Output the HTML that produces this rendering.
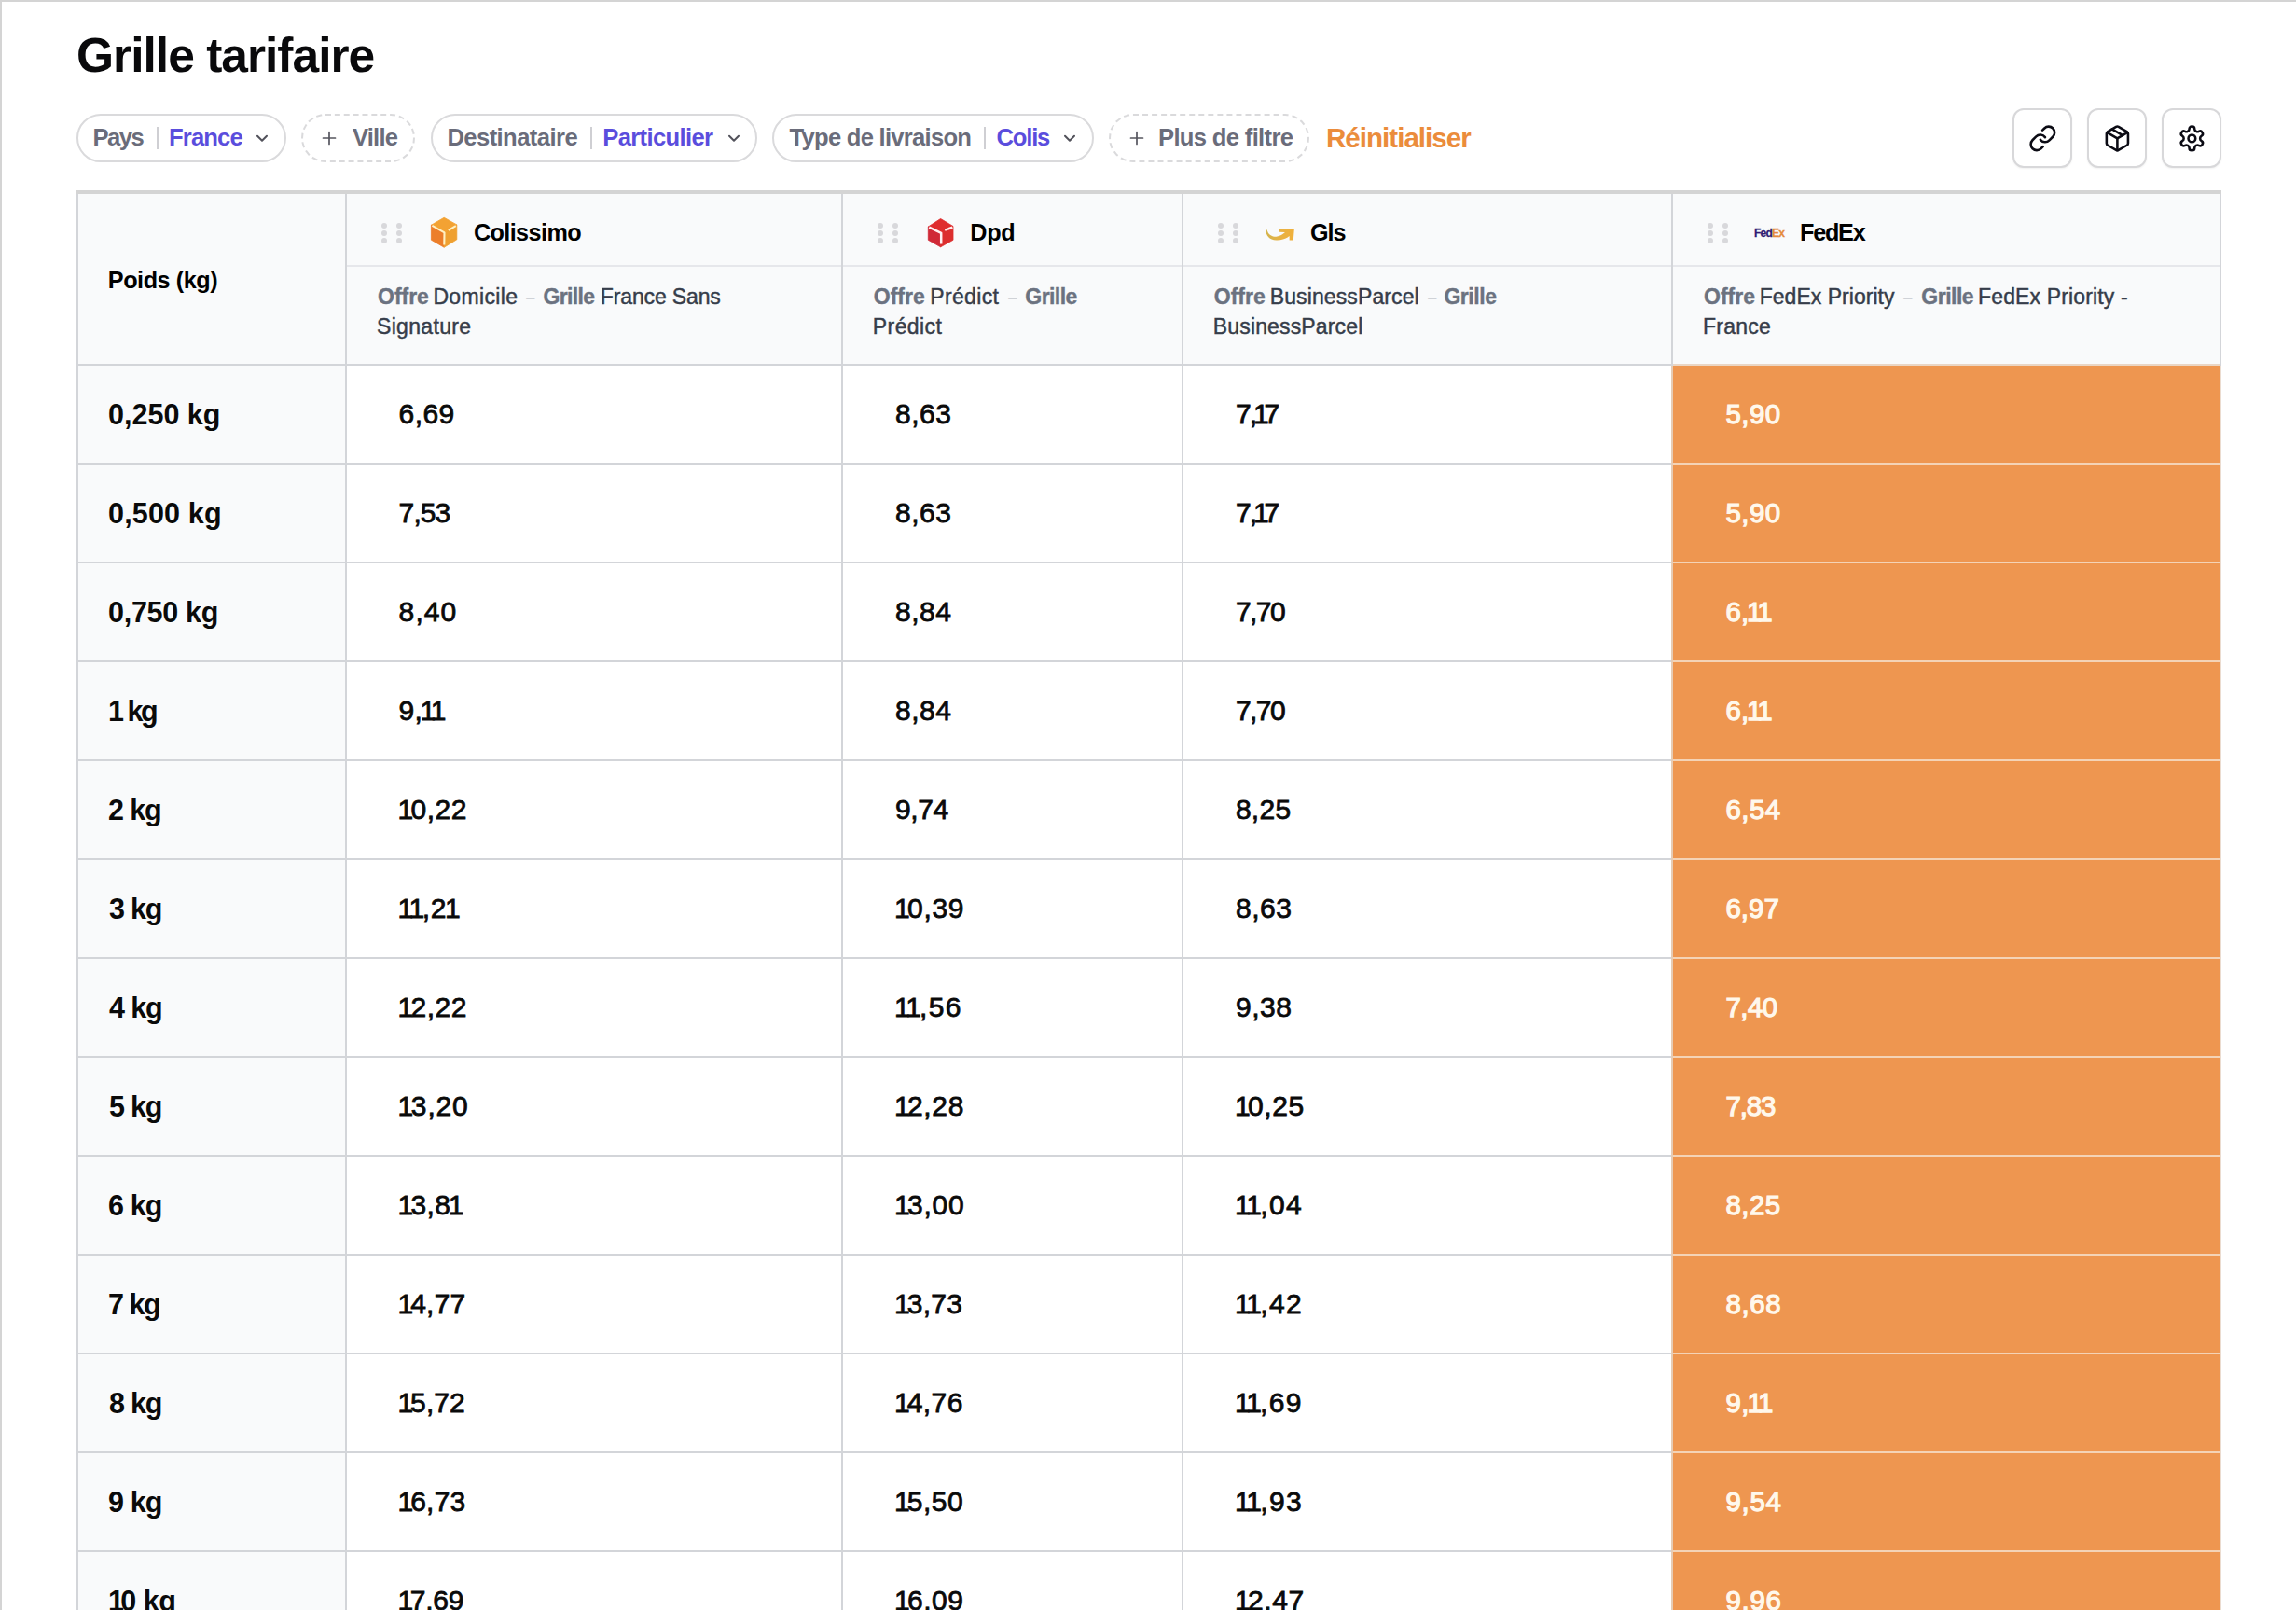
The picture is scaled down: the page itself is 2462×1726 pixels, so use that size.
<!DOCTYPE html><html lang="fr"><head><meta charset="utf-8"><title>Grille tarifaire</title><style>
*{box-sizing:border-box;margin:0;padding:0}
html,body{width:2462px;height:1726px;overflow:hidden;background:#fff}
body{position:relative;font-family:"Liberation Sans",sans-serif;color:#09090b}
.a{position:absolute;white-space:nowrap;line-height:1}
.frame-t{left:0;top:0;width:2462px;height:2px;background:#d4d4d4}
.frame-l{left:0;top:0;width:2px;height:1726px;background:#d4d4d4}
h1{font-size:51.5px;font-weight:700;top:34.4px}
.pill{height:52px;top:122px;border:2px solid #dadadc;border-radius:26px;background:#fff}
.pill.dash{border-style:dashed}
.pt{font-size:25.6px;font-weight:700;color:#6a6c7a;top:135px}
.pv{color:#5a4ddd}
.sep{width:2px;height:24px;top:136px;background:#cfcfd3}
.reset{font-size:29.6px;font-weight:700;color:#eb8c3b;top:132.6px}
.btn{width:64px;height:64px;top:116px;border:2px solid #d8d8da;border-radius:12px;background:#fff;box-shadow:0 1px 2px rgba(0,0,0,.06)}
.btn svg{position:absolute;left:14.6px;top:14.6px;width:30.8px;height:30.8px}
.thead{background:#f9fafb}
.ln{background:#d3d5d9}
.ln2{background:#e6e7eb}
.cn{font-size:25.2px;font-weight:700;color:#000;top:237px}
.s{font-size:23px;color:#363d4a}
.s.r{-webkit-text-stroke:0.45px #363d4a}
.s.b{font-weight:700;color:#6b7280;-webkit-text-stroke:0.4px #6b7280}
.s.d{color:#cfd2d7;font-weight:700}
.rl{font-size:30.5px;font-weight:700;color:#0a0a0a}
.pr{font-size:30px;font-weight:400;color:#0a0a0a;-webkit-text-stroke:0.8px #0a0a0a}
.prw{font-size:29.4px;font-weight:400;color:#fff8ec;-webkit-text-stroke:1.25px #fff8ec}
.or{background:#ee9650}
.dots i{position:absolute;width:6px;height:6px;border-radius:3px;background:#d8d8db}
</style></head><body>
<div class="a frame-t"></div><div class="a frame-l"></div>
<h1 class="a" style="left:82px;letter-spacing:-0.977px">Grille tarifaire</h1>
<div class="a pill" style="left:82px;width:225px"></div>
<div class="a pt" style="left:99.5px;letter-spacing:-1.513px">Pays</div><div class="a sep" style="left:168px"></div><div class="a pt pv" style="left:181px;letter-spacing:-0.859px">France</div><svg class="a" style="left:273px;top:140px" width="16" height="16" viewBox="0 0 16 16"><path d="M3 5.7l5 5L13 5.7" fill="none" stroke="#52525b" stroke-width="2" stroke-linecap="round" stroke-linejoin="round"/></svg>
<div class="a pill dash" style="left:323px;width:122px"></div>
<svg class="a" style="left:345px;top:140px" width="16" height="16" viewBox="0 0 16 16"><path d="M8 1.5v13M1.5 8h13" fill="none" stroke="#55555e" stroke-width="1.7" stroke-linecap="round"/></svg><div class="a pt" style="left:378px;letter-spacing:-0.81px">Ville</div>
<div class="a pill" style="left:462px;width:350px"></div>
<div class="a pt" style="left:479.4px;letter-spacing:-0.571px">Destinataire</div><div class="a sep" style="left:633px"></div><div class="a pt pv" style="left:646.3px;letter-spacing:-0.652px">Particulier</div><svg class="a" style="left:778.5px;top:140px" width="16" height="16" viewBox="0 0 16 16"><path d="M3 5.7l5 5L13 5.7" fill="none" stroke="#52525b" stroke-width="2" stroke-linecap="round" stroke-linejoin="round"/></svg>
<div class="a pill" style="left:828px;width:345px"></div>
<div class="a pt" style="left:846.5px;letter-spacing:-0.735px">Type de livraison</div><div class="a sep" style="left:1055px"></div><div class="a pt pv" style="left:1068.5px;letter-spacing:-1.185px">Colis</div><svg class="a" style="left:1139px;top:140px" width="16" height="16" viewBox="0 0 16 16"><path d="M3 5.7l5 5L13 5.7" fill="none" stroke="#52525b" stroke-width="2" stroke-linecap="round" stroke-linejoin="round"/></svg>
<div class="a pill dash" style="left:1189px;width:215px"></div>
<svg class="a" style="left:1211px;top:140px" width="16" height="16" viewBox="0 0 16 16"><path d="M8 1.5v13M1.5 8h13" fill="none" stroke="#55555e" stroke-width="1.7" stroke-linecap="round"/></svg><div class="a pt" style="left:1242px;letter-spacing:-0.667px">Plus de filtre</div>
<div class="a reset" style="left:1422px;letter-spacing:-1.004px">Réinitialiser</div>
<div class="a btn" style="left:2158px"><svg viewBox="0 0 24 24" fill="none" stroke="#0b0b14" stroke-width="2" stroke-linecap="round" stroke-linejoin="round"><path d="M10 13a5 5 0 0 0 7.54.54l3-3a5 5 0 0 0-7.07-7.07l-1.72 1.71"/><path d="M14 11a5 5 0 0 0-7.54-.54l-3 3a5 5 0 0 0 7.07 7.07l1.71-1.71"/></svg></div>
<div class="a btn" style="left:2238px"><svg viewBox="0 0 24 24" fill="none" stroke="#0b0b14" stroke-width="2" stroke-linecap="round" stroke-linejoin="round"><path d="m7.5 4.27 9 5.15"/><path d="M21 8a2 2 0 0 0-1-1.73l-7-4a2 2 0 0 0-2 0l-7 4A2 2 0 0 0 3 8v8a2 2 0 0 0 1 1.73l7 4a2 2 0 0 0 2 0l7-4A2 2 0 0 0 21 16Z"/><path d="m3.3 7 8.7 5 8.7-5"/><path d="M12 22V12"/></svg></div>
<div class="a btn" style="left:2318px"><svg viewBox="0 0 24 24" fill="none" stroke="#0b0b14" stroke-width="2" stroke-linecap="round" stroke-linejoin="round"><path d="M12.22 2h-.44a2 2 0 0 0-2 2v.18a2 2 0 0 1-1 1.73l-.43.25a2 2 0 0 1-2 0l-.15-.08a2 2 0 0 0-2.73.73l-.22.38a2 2 0 0 0 .73 2.73l.15.1a2 2 0 0 1 1 1.72v.51a2 2 0 0 1-1 1.74l-.15.09a2 2 0 0 0-.73 2.73l.22.38a2 2 0 0 0 2.73.73l.15-.08a2 2 0 0 1 2 0l.43.25a2 2 0 0 1 1 1.73V20a2 2 0 0 0 2 2h.44a2 2 0 0 0 2-2v-.18a2 2 0 0 1 1-1.73l.43-.25a2 2 0 0 1 2 0l.15.08a2 2 0 0 0 2.73-.73l.22-.39a2 2 0 0 0-.73-2.73l-.15-.08a2 2 0 0 1-1-1.74v-.5a2 2 0 0 1 1-1.74l.15-.09a2 2 0 0 0 .73-2.73l-.22-.38a2 2 0 0 0-2.73-.73l-.15.08a2 2 0 0 1-2 0l-.43-.25a2 2 0 0 1-1-1.73V4a2 2 0 0 0-2-2z"/><circle cx="12" cy="12" r="3"/></svg></div>
<div class="a" style="left:82px;top:204px;width:2300px;height:4px;background:#d4d4d4"></div>
<div class="a thead" style="left:82px;top:208px;width:2300px;height:182px"></div>
<div class="a thead" style="left:82px;top:390px;width:288px;height:1336px"></div>
<div class="a or" style="left:1794px;top:392px;width:586px;height:1336px"></div>
<div class="a ln2" style="left:372px;top:284px;width:2008px;height:2px"></div>
<div class="a ln" style="left:82px;top:390px;width:1712px;height:2px"></div>
<div class="a" style="left:1794px;top:390px;width:586px;height:2px;background:#ead6c5"></div>
<div class="a ln" style="left:82px;top:496px;width:1712px;height:2px"></div>
<div class="a" style="left:1794px;top:496px;width:586px;height:2px;background:#f4d3b6"></div>
<div class="a ln" style="left:82px;top:602px;width:1712px;height:2px"></div>
<div class="a" style="left:1794px;top:602px;width:586px;height:2px;background:#f4d3b6"></div>
<div class="a ln" style="left:82px;top:708px;width:1712px;height:2px"></div>
<div class="a" style="left:1794px;top:708px;width:586px;height:2px;background:#f4d3b6"></div>
<div class="a ln" style="left:82px;top:814px;width:1712px;height:2px"></div>
<div class="a" style="left:1794px;top:814px;width:586px;height:2px;background:#f4d3b6"></div>
<div class="a ln" style="left:82px;top:920px;width:1712px;height:2px"></div>
<div class="a" style="left:1794px;top:920px;width:586px;height:2px;background:#f4d3b6"></div>
<div class="a ln" style="left:82px;top:1026px;width:1712px;height:2px"></div>
<div class="a" style="left:1794px;top:1026px;width:586px;height:2px;background:#f4d3b6"></div>
<div class="a ln" style="left:82px;top:1132px;width:1712px;height:2px"></div>
<div class="a" style="left:1794px;top:1132px;width:586px;height:2px;background:#f4d3b6"></div>
<div class="a ln" style="left:82px;top:1238px;width:1712px;height:2px"></div>
<div class="a" style="left:1794px;top:1238px;width:586px;height:2px;background:#f4d3b6"></div>
<div class="a ln" style="left:82px;top:1344px;width:1712px;height:2px"></div>
<div class="a" style="left:1794px;top:1344px;width:586px;height:2px;background:#f4d3b6"></div>
<div class="a ln" style="left:82px;top:1450px;width:1712px;height:2px"></div>
<div class="a" style="left:1794px;top:1450px;width:586px;height:2px;background:#f4d3b6"></div>
<div class="a ln" style="left:82px;top:1556px;width:1712px;height:2px"></div>
<div class="a" style="left:1794px;top:1556px;width:586px;height:2px;background:#f4d3b6"></div>
<div class="a ln" style="left:82px;top:1662px;width:1712px;height:2px"></div>
<div class="a" style="left:1794px;top:1662px;width:586px;height:2px;background:#f4d3b6"></div>
<div class="a ln" style="left:82px;top:1768px;width:1712px;height:2px"></div>
<div class="a" style="left:1794px;top:1768px;width:586px;height:2px;background:#f4d3b6"></div>
<div class="a ln" style="left:82px;top:208px;width:2px;height:1518px"></div>
<div class="a ln" style="left:370px;top:208px;width:2px;height:1518px"></div>
<div class="a ln" style="left:902px;top:208px;width:2px;height:1518px"></div>
<div class="a ln" style="left:1267px;top:208px;width:2px;height:1518px"></div>
<div class="a ln" style="left:1792px;top:208px;width:2px;height:184px"></div>
<div class="a" style="left:1792px;top:392px;width:2px;height:1334px;background:#e6cbb4"></div>
<div class="a ln" style="left:2380px;top:208px;width:2px;height:184px"></div>
<div class="a" style="left:2380px;top:392px;width:2px;height:1334px;background:#ebdcd0"></div>
<div class="a cn" style="left:115.8px;letter-spacing:-0.44px;top:288px">Poids (kg)</div>
<div class="a dots" style="left:409px;top:239px;width:24px;height:24px"><i style="left:0px;top:0px"></i><i style="left:0px;top:8.2px"></i><i style="left:0px;top:16.4px"></i><i style="left:16px;top:0px"></i><i style="left:16px;top:8.2px"></i><i style="left:16px;top:16.4px"></i></div>
<svg class="a" style="left:459px;top:230px" width="34" height="38" viewBox="0 0 34 38"><path d="M17.2 3.3 L30.8 10.9 L17.5 19.3 L3.4 11.2 Z" fill="#f3a233" stroke="#f3a233" stroke-width="0.8" stroke-linejoin="round"/><path d="M3.4 11.2 L17.5 19.3 L17.2 35.2 L3.4 27.2 Z" fill="#ec7e2a" stroke="#ec7e2a" stroke-width="0.8" stroke-linejoin="round"/><path d="M30.8 10.9 L30.8 26.8 L17.2 35.2 L17.5 19.3 Z" fill="#efa030" stroke="#efa030" stroke-width="0.8" stroke-linejoin="round"/><path d="M4.4 11.8 L17.5 19.3 L17.3 32.6 M21.8 16.8 L29.8 12.2" fill="none" stroke="#fff1c4" stroke-width="2.1" stroke-linejoin="round"/></svg>
<div class="a cn" style="left:507.9px;letter-spacing:-0.585px">Colissimo</div>
<div class="a s b" style="left:405px;letter-spacing:-0.015px;top:307.4px">Offre</div><div class="a s r" style="left:464.4px;letter-spacing:0.359px;top:307.4px">Domicile</div><div class="a s b" style="left:582.4px;letter-spacing:-0.622px;top:307.4px">Grille</div><div class="a s r" style="left:643.8px;letter-spacing:-0.14px;top:307.4px">France Sans</div>
<div class="a s d" style="left:563px;top:305px;font-size:26px;font-weight:400;transform:scaleX(1.45);transform-origin:1px 50%">-</div>
<div class="a s r" style="left:404px;letter-spacing:0.329px;top:338.6px">Signature</div>
<div class="a dots" style="left:941px;top:239px;width:24px;height:24px"><i style="left:0px;top:0px"></i><i style="left:0px;top:8.2px"></i><i style="left:0px;top:16.4px"></i><i style="left:16px;top:0px"></i><i style="left:16px;top:8.2px"></i><i style="left:16px;top:16.4px"></i></div>
<svg class="a" style="left:992px;top:231px" width="34" height="38" viewBox="0 0 34 38"><path d="M16.6 3.5 L30.0 11.5 L17.2 18.8 L3.3 12.0 Z" fill="#df2d2e" stroke="#df2d2e" stroke-width="0.8" stroke-linejoin="round"/><path d="M3.3 12.0 L17.2 18.8 L16.6 33.8 L3.3 26.3 Z" fill="#d02937" stroke="#d02937" stroke-width="0.8" stroke-linejoin="round"/><path d="M30.0 11.5 L30.0 26.3 L16.6 33.8 L17.2 18.8 Z" fill="#dc2e2e" stroke="#dc2e2e" stroke-width="0.8" stroke-linejoin="round"/><path d="M4.3 12.6 L17.2 18.8 L17.2 30.6 M21.2 15.6 L29.4 12.8" fill="none" stroke="#fff0f1" stroke-width="2.5" stroke-linejoin="round"/></svg>
<div class="a cn" style="left:1040.3px;letter-spacing:-0.338px">Dpd</div>
<div class="a s b" style="left:936.8px;letter-spacing:0.01px;top:307.4px">Offre</div><div class="a s r" style="left:997.3px;letter-spacing:0.335px;top:307.4px">Prédict</div><div class="a s b" style="left:1099.3px;letter-spacing:-0.562px;top:307.4px">Grille</div>
<div class="a s d" style="left:1080px;top:305px;font-size:26px;font-weight:400;transform:scaleX(1.45);transform-origin:1px 50%">-</div>
<div class="a s r" style="left:935.8px;letter-spacing:0.418px;top:338.6px">Prédict</div>
<div class="a dots" style="left:1306px;top:239px;width:24px;height:24px"><i style="left:0px;top:0px"></i><i style="left:0px;top:8.2px"></i><i style="left:0px;top:16.4px"></i><i style="left:16px;top:0px"></i><i style="left:16px;top:8.2px"></i><i style="left:16px;top:16.4px"></i></div>
<svg class="a" style="left:1345px;top:230px" width="60" height="40" viewBox="0 0 2296 1531"><defs><linearGradient id="gg" x1="0" y1="0" x2="1" y2="0"><stop offset="0" stop-color="#d4b44c"/><stop offset="0.55" stop-color="#e9b244"/><stop offset="1" stop-color="#f0b03a"/></linearGradient></defs><path d="M1030 580 L1640 580 L1600 1050 L1440 1050 L1440 880 C1300 1000 1100 1060 900 1050 C650 1040 470 900 480 640 L520 620 C560 820 720 910 900 910 C1050 900 1180 800 1260 730 L1030 720 Z" fill="url(#gg)"/></svg>
<div class="a cn" style="left:1405px;letter-spacing:-0.995px">Gls</div>
<div class="a s b" style="left:1301.8px;letter-spacing:0.01px;top:307.4px">Offre</div><div class="a s r" style="left:1361.7px;letter-spacing:0.115px;top:307.4px">BusinessParcel</div><div class="a s b" style="left:1548.4px;letter-spacing:-0.442px;top:307.4px">Grille</div>
<div class="a s d" style="left:1529.5px;top:305px;font-size:26px;font-weight:400;transform:scaleX(1.45);transform-origin:1px 50%">-</div>
<div class="a s r" style="left:1300.8px;letter-spacing:0.153px;top:338.6px">BusinessParcel</div>
<div class="a dots" style="left:1831px;top:239px;width:24px;height:24px"><i style="left:0px;top:0px"></i><i style="left:0px;top:8.2px"></i><i style="left:0px;top:16.4px"></i><i style="left:16px;top:0px"></i><i style="left:16px;top:8.2px"></i><i style="left:16px;top:16.4px"></i></div>
<div class="a" style="left:1881.2px;top:243px;font-size:13.7px;font-weight:700;letter-spacing:-0.9px;color:#2e1c74;-webkit-text-stroke:0.3px;transform:scaleX(.88);transform-origin:0 0">Fed<span style="color:#e58a3c">Ex</span></div>
<div class="a cn" style="left:1930px;letter-spacing:-1.22px">FedEx</div>
<div class="a s b" style="left:1827px;letter-spacing:0.035px;top:307.4px">Offre</div><div class="a s r" style="left:1886.7px;letter-spacing:0.029px;top:307.4px">FedEx Priority</div><div class="a s b" style="left:2060.3px;letter-spacing:-0.502px;top:307.4px">Grille</div><div class="a s r" style="left:2121px;letter-spacing:0.146px;top:307.4px">FedEx Priority -</div>
<div class="a s d" style="left:2040px;top:305px;font-size:26px;font-weight:400;transform:scaleX(1.45);transform-origin:1px 50%">-</div>
<div class="a s r" style="left:1826px;letter-spacing:0.222px;top:338.6px">France</div>
<div class="a rl" style="left:116.00px;letter-spacing:0.006px;top:428.6px">0,250 kg</div>
<div class="a pr" style="left:427.60px;letter-spacing:0.432px;top:429.3px">6,69</div>
<div class="a pr" style="left:959.90px;letter-spacing:0.565px;top:429.3px">8,63</div>
<div class="a pr" style="left:1324.90px;letter-spacing:-1.768px;top:429.3px">7,<span style="margin:0 -3.30px 0 -2.40px">1</span>7</div>
<div class="a prw" style="left:1850.40px;letter-spacing:0.514px;top:428.8px">5,90</div>
<div class="a rl" style="left:116.00px;letter-spacing:0.177px;top:534.6px">0,500 kg</div>
<div class="a pr" style="left:427.60px;letter-spacing:-0.901px;top:535.3px">7,53</div>
<div class="a pr" style="left:959.90px;letter-spacing:0.565px;top:535.3px">8,63</div>
<div class="a pr" style="left:1324.90px;letter-spacing:-1.768px;top:535.3px">7,<span style="margin:0 -3.30px 0 -2.40px">1</span>7</div>
<div class="a prw" style="left:1850.40px;letter-spacing:0.514px;top:534.8px">5,90</div>
<div class="a rl" style="left:116.00px;letter-spacing:-0.280px;top:640.6px">0,750 kg</div>
<div class="a pr" style="left:427.60px;letter-spacing:1.099px;top:641.3px">8,40</div>
<div class="a pr" style="left:959.90px;letter-spacing:0.565px;top:641.3px">8,84</div>
<div class="a pr" style="left:1324.90px;letter-spacing:-1.535px;top:641.3px">7,70</div>
<div class="a prw" style="left:1850.40px;letter-spacing:0.254px;top:640.8px">6,<span style="margin:0 -3.23px 0 -2.35px">1</span><span style="margin:0 0.00px 0 -2.35px">1</span></div>
<div class="a rl" style="left:118.44px;letter-spacing:-2.433px;top:746.6px"><span style="margin:0 0.00px 0 -2.44px">1</span> kg</div>
<div class="a pr" style="left:427.60px;letter-spacing:0.174px;top:747.3px">9,<span style="margin:0 -3.30px 0 -2.40px">1</span><span style="margin:0 0.00px 0 -2.40px">1</span></div>
<div class="a pr" style="left:959.90px;letter-spacing:0.565px;top:747.3px">8,84</div>
<div class="a pr" style="left:1324.90px;letter-spacing:-1.535px;top:747.3px">7,70</div>
<div class="a prw" style="left:1850.40px;letter-spacing:0.254px;top:746.8px">6,<span style="margin:0 -3.23px 0 -2.35px">1</span><span style="margin:0 0.00px 0 -2.35px">1</span></div>
<div class="a rl" style="left:116.00px;letter-spacing:-1.133px;top:852.6px">2 kg</div>
<div class="a pr" style="left:429.00px;letter-spacing:0.503px;top:853.3px"><span style="margin:0 -3.30px 0 -2.40px">1</span>0,22</div>
<div class="a pr" style="left:959.90px;letter-spacing:-0.368px;top:853.3px">9,74</div>
<div class="a pr" style="left:1324.90px;letter-spacing:0.299px;top:853.3px">8,25</div>
<div class="a prw" style="left:1850.40px;letter-spacing:0.514px;top:852.8px">6,54</div>
<div class="a rl" style="left:117.00px;letter-spacing:-1.200px;top:958.6px">3 kg</div>
<div class="a pr" style="left:429.00px;letter-spacing:0.809px;top:959.3px"><span style="margin:0 -3.30px 0 -2.40px">1</span><span style="margin:0 -3.30px 0 -2.40px">1</span>,2<span style="margin:0 0.00px 0 -2.40px">1</span></div>
<div class="a pr" style="left:961.30px;letter-spacing:0.703px;top:959.3px"><span style="margin:0 -3.30px 0 -2.40px">1</span>0,39</div>
<div class="a pr" style="left:1324.90px;letter-spacing:0.565px;top:959.3px">8,63</div>
<div class="a prw" style="left:1850.40px;letter-spacing:0.048px;top:958.8px">6,97</div>
<div class="a rl" style="left:117.00px;letter-spacing:-1.100px;top:1064.6px">4 kg</div>
<div class="a pr" style="left:429.00px;letter-spacing:0.528px;top:1065.3px"><span style="margin:0 -3.30px 0 -2.40px">1</span>2,22</div>
<div class="a pr" style="left:961.30px;letter-spacing:1.334px;top:1065.3px"><span style="margin:0 -3.30px 0 -2.40px">1</span><span style="margin:0 -3.30px 0 -2.40px">1</span>,56</div>
<div class="a pr" style="left:1324.90px;letter-spacing:0.565px;top:1065.3px">9,38</div>
<div class="a prw" style="left:1850.40px;letter-spacing:-0.486px;top:1064.8px">7,40</div>
<div class="a rl" style="left:117.00px;letter-spacing:-1.233px;top:1170.6px">5 kg</div>
<div class="a pr" style="left:429.00px;letter-spacing:0.853px;top:1171.3px"><span style="margin:0 -3.30px 0 -2.40px">1</span>3,20</div>
<div class="a pr" style="left:961.30px;letter-spacing:0.678px;top:1171.3px"><span style="margin:0 -3.30px 0 -2.40px">1</span>2,28</div>
<div class="a pr" style="left:1326.30px;letter-spacing:0.628px;top:1171.3px"><span style="margin:0 -3.30px 0 -2.40px">1</span>0,25</div>
<div class="a prw" style="left:1850.40px;letter-spacing:-1.052px;top:1170.8px">7,83</div>
<div class="a rl" style="left:116.00px;letter-spacing:-0.900px;top:1276.6px">6 kg</div>
<div class="a pr" style="left:429.00px;letter-spacing:0.378px;top:1277.3px"><span style="margin:0 -3.30px 0 -2.40px">1</span>3,8<span style="margin:0 0.00px 0 -2.40px">1</span></div>
<div class="a pr" style="left:961.30px;letter-spacing:0.753px;top:1277.3px"><span style="margin:0 -3.30px 0 -2.40px">1</span>3,00</div>
<div class="a pr" style="left:1326.30px;letter-spacing:1.434px;top:1277.3px"><span style="margin:0 -3.30px 0 -2.40px">1</span><span style="margin:0 -3.30px 0 -2.40px">1</span>,04</div>
<div class="a prw" style="left:1850.40px;letter-spacing:0.514px;top:1276.8px">8,25</div>
<div class="a rl" style="left:116.00px;letter-spacing:-1.466px;top:1382.6px">7 kg</div>
<div class="a pr" style="left:429.00px;letter-spacing:0.203px;top:1383.3px"><span style="margin:0 -3.30px 0 -2.40px">1</span>4,77</div>
<div class="a pr" style="left:961.30px;letter-spacing:0.328px;top:1383.3px"><span style="margin:0 -3.30px 0 -2.40px">1</span>3,73</div>
<div class="a pr" style="left:1326.30px;letter-spacing:1.434px;top:1383.3px"><span style="margin:0 -3.30px 0 -2.40px">1</span><span style="margin:0 -3.30px 0 -2.40px">1</span>,42</div>
<div class="a prw" style="left:1850.40px;letter-spacing:0.648px;top:1382.8px">8,68</div>
<div class="a rl" style="left:117.00px;letter-spacing:-1.233px;top:1488.6px">8 kg</div>
<div class="a pr" style="left:429.00px;letter-spacing:0.103px;top:1489.3px"><span style="margin:0 -3.30px 0 -2.40px">1</span>5,72</div>
<div class="a pr" style="left:961.30px;letter-spacing:0.428px;top:1489.3px"><span style="margin:0 -3.30px 0 -2.40px">1</span>4,76</div>
<div class="a pr" style="left:1326.30px;letter-spacing:1.334px;top:1489.3px"><span style="margin:0 -3.30px 0 -2.40px">1</span><span style="margin:0 -3.30px 0 -2.40px">1</span>,69</div>
<div class="a prw" style="left:1850.40px;letter-spacing:0.521px;top:1488.8px">9,<span style="margin:0 -3.23px 0 -2.35px">1</span><span style="margin:0 0.00px 0 -2.35px">1</span></div>
<div class="a rl" style="left:116.00px;letter-spacing:-0.900px;top:1594.6px">9 kg</div>
<div class="a pr" style="left:429.00px;letter-spacing:0.203px;top:1595.3px"><span style="margin:0 -3.30px 0 -2.40px">1</span>6,73</div>
<div class="a pr" style="left:961.30px;letter-spacing:0.478px;top:1595.3px"><span style="margin:0 -3.30px 0 -2.40px">1</span>5,50</div>
<div class="a pr" style="left:1326.30px;letter-spacing:1.434px;top:1595.3px"><span style="margin:0 -3.30px 0 -2.40px">1</span><span style="margin:0 -3.30px 0 -2.40px">1</span>,93</div>
<div class="a prw" style="left:1850.40px;letter-spacing:0.781px;top:1594.8px">9,54</div>
<div class="a rl" style="left:118.44px;letter-spacing:-0.452px;top:1700.6px"><span style="margin:0 -3.35px 0 -2.44px">1</span>0 kg</div>
<div class="a pr" style="left:429.00px;letter-spacing:-0.222px;top:1701.3px"><span style="margin:0 -3.30px 0 -2.40px">1</span>7,69</div>
<div class="a pr" style="left:961.30px;letter-spacing:0.578px;top:1701.3px"><span style="margin:0 -3.30px 0 -2.40px">1</span>6,09</div>
<div class="a pr" style="left:1326.30px;letter-spacing:0.628px;top:1701.3px"><span style="margin:0 -3.30px 0 -2.40px">1</span>2,47</div>
<div class="a prw" style="left:1850.40px;letter-spacing:0.781px;top:1700.8px">9,96</div>
</body></html>
